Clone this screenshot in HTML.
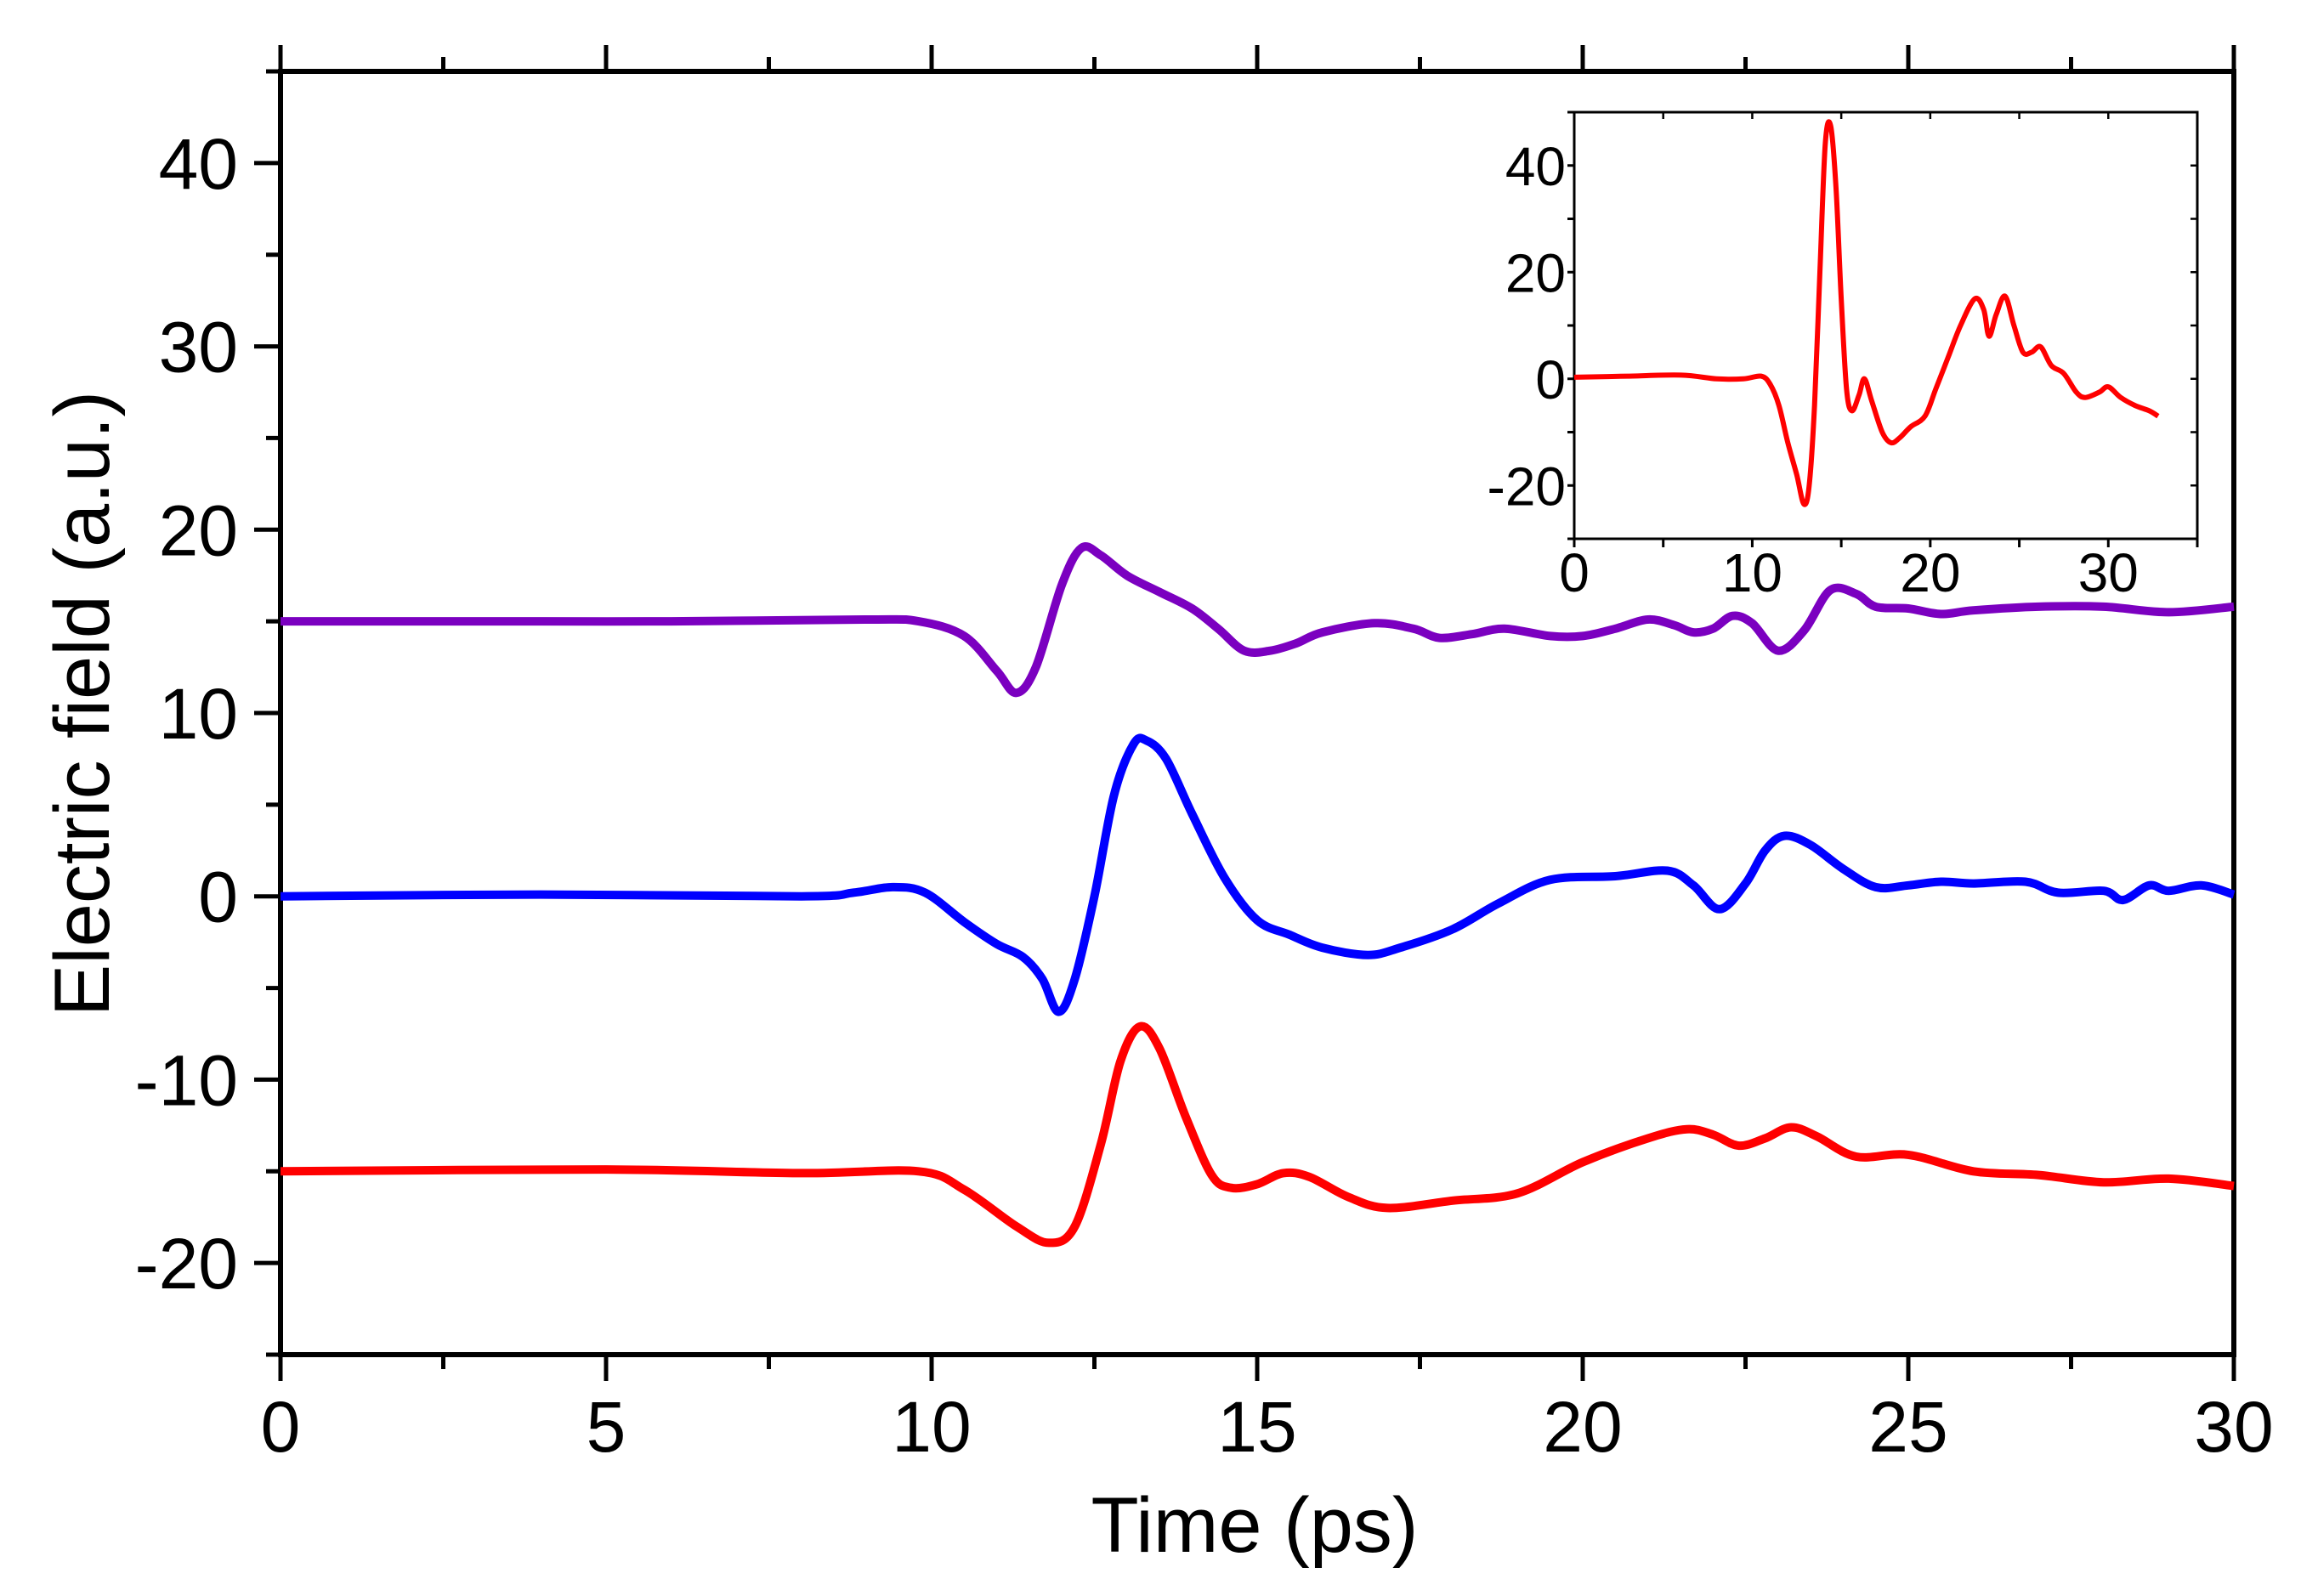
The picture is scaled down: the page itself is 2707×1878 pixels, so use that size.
<!DOCTYPE html>
<html><head><meta charset="utf-8"><style>
html,body{margin:0;padding:0;background:#fff;}
svg{display:block;font-family:"Liberation Sans",Arial,sans-serif;}
</style></head><body>
<svg id="chart" width="2707" height="1878" viewBox="0 0 2707 1878" xmlns="http://www.w3.org/2000/svg">
<rect width="2707" height="1878" fill="#fff"/>
<g id="main-axes"></g>
<g id="main-series"></g>
<g id="inset"></g>
<text x="1476" y="1826" font-size="92" text-anchor="middle">Time (ps)</text>
<text transform="translate(128,828) rotate(-90)" font-size="92" text-anchor="middle">Electric field (a.u.)</text>
</svg>
<script>
// ---- main chart data ----
const purpleT = [0,3,6,9,9.8,10.5,11,11.3,11.6,12,12.3,12.6,13,13.5,14,14.4,14.8,15.2,15.6,16,16.8,17.4,17.8,18.3,18.8,19.5,20,20.5,21,21.4,21.7,22,22.3,22.6,23,23.4,23.8,24.2,24.5,25,25.5,26,27,28,29,30];
const purpleV = [15,15,15,15.1,15,14.2,12.3,11.1,12.5,17,19,18.6,17.5,16.6,15.7,14.6,13.4,13.4,13.8,14.4,14.9,14.6,14.1,14.3,14.6,14.2,14.2,14.6,15.1,14.8,14.4,14.6,15.3,14.9,13.4,14.5,16.7,16.5,15.8,15.7,15.4,15.6,15.8,15.8,15.5,15.8];
const blueT = [0,4,8,8.8,9.4,9.9,10.5,11,11.4,11.7,11.95,12.2,12.5,12.8,13.1,13.3,13.6,14,14.5,15,15.5,16,16.7,17.2,18,18.7,19.5,20.5,21.3,21.7,22.1,22.5,22.8,23.1,23.5,24,24.5,25,25.5,26,26.8,27.3,28,28.3,28.7,29,29.5,30];
const blueV = [0,0.1,0,0.2,0.5,0.2,-1.4,-2.6,-3.3,-4.5,-6.3,-4.5,0,5.5,8.3,8.5,7.5,4.5,1,-1.3,-2.1,-2.8,-3.2,-2.8,-1.8,-0.4,0.9,1.1,1.4,0.6,-0.7,0.7,2.5,3.3,2.8,1.5,0.5,0.6,0.8,0.7,0.8,0.2,0.3,-0.2,0.6,0.3,0.6,0.1];
const redT = [0,5,8,9.8,10.5,11.3,11.8,12.2,12.6,12.9,13.2,13.5,13.9,14.3,14.6,15,15.4,15.8,16.4,17,18,19,20,21,21.6,22,22.4,22.8,23.2,23.6,24.2,25,26,27,28,29,30];
const redV = [-15,-14.9,-15.1,-15,-16,-18,-18.9,-18,-13.5,-9,-7.1,-8.3,-12,-15.2,-15.9,-15.7,-15.1,-15.3,-16.4,-17,-16.6,-16.2,-14.5,-13.2,-12.7,-13,-13.6,-13.2,-12.6,-13.1,-14.2,-14.1,-15,-15.2,-15.6,-15.4,-15.8];
const mainXTicks = [0,5,10,15,20,25,30];
const mainYTicks = [-20,-10,0,10,20,30,40];
// ---- inset data ----
const insetT = [0,3,6,8,9.5,10.5,11,11.5,12,12.5,12.9,13.2,13.5,13.8,14.1,14.4,14.7,15,15.3,15.6,16,16.3,16.7,17.3,17.8,18.3,18.9,19.7,20.3,21,21.7,22.5,23,23.3,23.7,24.2,24.7,25.2,25.7,26.2,26.8,27.5,28.2,28.7,29.5,30,30.7,31.5,32.3,32.8];
const insetV = [0.3,0.5,0.7,0,0,0.5,-1,-5,-12,-18,-23.5,-20,-5,20,44,47.5,36,15,-2,-6,-3,0,-4,-10,-12,-11,-9,-7,-2,4,10,15,13,8,12,15.5,10,5,5,6,2.5,1,-2.5,-3.5,-2.5,-1.5,-3.5,-5,-6,-7];
const insetXTicks = [0,10,20,30];
const insetYTicks = [-20,0,20,40];

const NS = "http://www.w3.org/2000/svg";
function mk(tag, attrs, parent){const e=document.createElementNS(NS,tag);for(const k in attrs)e.setAttribute(k,attrs[k]);parent.appendChild(e);return e;}
function smoothPath(pts){let d="M"+pts[0][0].toFixed(1)+","+pts[0][1].toFixed(1);
 for(let i=0;i<pts.length-1;i++){const p0=pts[i-1]||pts[i],p1=pts[i],p2=pts[i+1],p3=pts[i+2]||p2;
  const c1=[p1[0]+(p2[0]-p0[0])/6,p1[1]+(p2[1]-p0[1])/6],c2=[p2[0]-(p3[0]-p1[0])/6,p2[1]-(p3[1]-p1[1])/6];
  d+="C"+c1[0].toFixed(1)+","+c1[1].toFixed(1)+" "+c2[0].toFixed(1)+","+c2[1].toFixed(1)+" "+p2[0].toFixed(1)+","+p2[1].toFixed(1);}
 return d;}

// main axes
const L=330,R=2628,T=84,B=1594;
const xs=v=>L+(v-0)/(30-0)*(R-L);
const ys=v=>B-(v+25)/(70)*(B-T);
const ax=document.getElementById('main-axes');
const frame=mk('rect',{x:L,y:T,width:R-L,height:B-T,fill:'none',stroke:'#000','stroke-width':6},ax);


for(let v=0;v<=30;v+=2.5){const major=v%5===0,len=major?31:17;
 const t1=mk('line',{x1:xs(v),x2:xs(v),y1:B,y2:B+len,stroke:'#000','stroke-width':5},ax);
 
 
 const t2=mk('line',{x1:xs(v),x2:xs(v),y1:T,y2:T-len,stroke:'#000','stroke-width':5},ax);
 
 }
for(let v=-25;v<=45;v+=5){const major=v%10===0,len=major?31:17;
 const t=mk('line',{x1:L,x2:L-len,y1:ys(v),y2:ys(v),stroke:'#000','stroke-width':5},ax);
 
 }
mainXTicks.forEach(v=>{const t=mk('text',{x:xs(v),y:1708,'font-size':84,'text-anchor':'middle'},ax);t.textContent=v;
 
 });
mainYTicks.forEach(v=>{const t=mk('text',{x:280,y:ys(v)+30,'font-size':84,'text-anchor':'end'},ax);t.textContent=v;
 
 });

const ser=document.getElementById('main-series');
[[purpleT,purpleV,'#7b00c0','purple-trace'],[blueT,blueV,'#0000ff','blue-trace'],[redT,redV,'#ff0000','red-trace']].forEach(s=>{
 const pts=s[0].map((t,i)=>[xs(t),ys(s[1][i])]);
 const p=mk('path',{d:smoothPath(pts),fill:'none',stroke:s[2],'stroke-width':10,'stroke-linejoin':'round'},ser);
 
 });

// inset
const iL=1852,iR=2585,iT=132,iB=634;
const ixs=v=>iL+v/35*(iR-iL);
const iys=v=>iB-(v+30)/80*(iB-iT);
const ins=document.getElementById('inset');
const ifr=mk('rect',{x:iL,y:iT,width:iR-iL,height:iB-iT,fill:'none',stroke:'#000','stroke-width':3},ins);


for(let v=0;v<=35;v+=5){
 const t=mk('line',{x1:ixs(v),x2:ixs(v),y1:iB,y2:iB+10,stroke:'#000','stroke-width':3},ins);
 
 
 const t2=mk('line',{x1:ixs(v),x2:ixs(v),y1:iT,y2:iT+8,stroke:'#000','stroke-width':2.5},ins);
 
 }
for(let v=-30;v<=50;v+=10){
 const t=mk('line',{x1:iL,x2:iL-8,y1:iys(v),y2:iys(v),stroke:'#000','stroke-width':3},ins);
 
 
 const t2=mk('line',{x1:iR,x2:iR-8,y1:iys(v),y2:iys(v),stroke:'#000','stroke-width':2.5},ins);
 
 }
insetXTicks.forEach(v=>{const t=mk('text',{x:ixs(v),y:696,'font-size':64,'text-anchor':'middle'},ins);t.textContent=v;
 
 });
insetYTicks.forEach(v=>{const t=mk('text',{x:1842,y:iys(v)+23,'font-size':64,'text-anchor':'end'},ins);t.textContent=v;
 
 });
const ipts=insetT.map((t,i)=>[ixs(t),iys(insetV[i])]);
const ip=mk('path',{d:smoothPath(ipts),fill:'none',stroke:'#ff0000','stroke-width':6,'stroke-linejoin':'round'},ins);


</script>
</body></html>
